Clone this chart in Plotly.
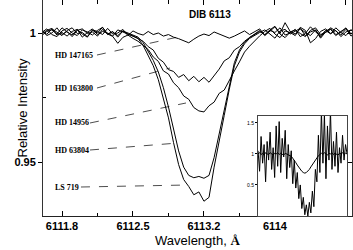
import plotly.graph_objects as go

wavelength = [6111.60, 6111.65, 6111.70, 6111.75, 6111.80, 6111.85, 6111.90, 6111.95, 6112.00, 6112.05,
              6112.10, 6112.15, 6112.20, 6112.25, 6112.30, 6112.35, 6112.40, 6112.45, 6112.50, 6112.55,
              6112.60, 6112.65, 6112.70, 6112.75, 6112.80, 6112.85, 6112.90, 6112.95, 6113.00, 6113.05,
              6113.10, 6113.15, 6113.20, 6113.25, 6113.30, 6113.35, 6113.40, 6113.45, 6113.50, 6113.55,
              6113.60, 6113.65, 6113.70, 6113.75, 6113.80, 6113.85, 6113.90, 6113.95, 6114.00, 6114.05,
              6114.10, 6114.15, 6114.20, 6114.25, 6114.30, 6114.35, 6114.40, 6114.45, 6114.50, 6114.55,
              6114.60, 6114.65, 6114.70]

hd147165 = [1.0008, 0.9995, 1.0016, 1.0004, 0.9990, 1.0010, 1.0020, 0.9998, 1.0002, 0.9986,
            1.0012, 1.0006, 0.9994, 1.0018, 0.9996, 1.0000, 1.0014, 0.9990, 1.0008, 0.9998,
            0.9992, 1.0006, 0.9994, 1.0000, 0.9988, 0.9994, 0.9984, 0.9978, 0.9970, 0.9962,
            0.9976, 0.9988, 0.9996, 0.9990, 1.0004, 0.9996, 0.9986, 0.9980, 0.9988, 0.9998,
            1.0008, 0.9994, 1.0004, 1.0016, 0.9990, 1.0006, 1.0024, 0.9996, 0.9982, 1.0004,
            1.0012, 0.9998, 0.9986, 1.0010, 1.0020, 0.9994, 1.0002, 1.0014, 0.9990, 1.0006,
            1.0018, 0.9996, 1.0008]

hd163800 = [0.9996, 1.0010, 1.0018, 0.9992, 1.0002, 0.9988, 1.0006, 1.0014, 0.9996, 0.9984,
            1.0010, 1.0000, 1.0022, 0.9994, 1.0004, 0.9990, 1.0008,
            0.9996, 0.9989, 0.9977, 0.9968, 0.9947, 0.9934, 0.9902, 0.9887, 0.9858, 0.9851,
            0.9828, 0.9839, 0.9815, 0.9832, 0.9811, 0.9828, 0.9809, 0.9836, 0.9860, 0.9892,
            0.9904, 0.9934, 0.9947, 0.9968, 0.9981, 0.9996,
            1.0010, 0.9992, 1.0012, 1.0026, 0.9998, 1.0040, 1.0006, 0.9996, 1.0016, 1.0002,
            0.9990, 1.0012, 0.9980, 1.0004, 1.0020, 1.0008, 0.9992, 1.0014, 0.9998, 1.0006]

hd14956 = [1.0012, 0.9990, 1.0000, 1.0020, 0.9994, 1.0006, 0.9986, 1.0010, 1.0016, 0.9998,
           1.0004, 0.9988, 1.0014, 0.9996, 0.9987, 0.9960, 0.9983,
           0.9992, 0.9979, 0.9968, 0.9952, 0.9936, 0.9907, 0.9890, 0.9853, 0.9841, 0.9807,
           0.9788, 0.9756, 0.9743, 0.9711, 0.9698, 0.9694, 0.9718, 0.9732, 0.9766, 0.9779,
           0.9819, 0.9853, 0.9888, 0.9926, 0.9949, 0.9970, 0.9989,
           1.0006, 1.0018, 0.9996, 0.9982, 1.0008, 1.0002, 0.9990, 1.0022, 1.0010, 0.9962,
           0.9978, 1.0006, 1.0016, 0.9998, 1.0010, 0.9986, 1.0004, 1.0012, 0.9996]

hd63804 = [1.0002, 1.0016, 0.9994, 0.9986, 1.0008, 1.0018, 1.0000, 0.9990, 1.0012, 1.0004,
           0.9992, 1.0010, 1.0022, 0.9996, 1.0006, 0.9984, 1.0008, 1.0000, 0.9994,
           0.9984, 0.9963, 0.9931, 0.9894, 0.9849, 0.9788, 0.9713, 0.9628, 0.9543, 0.9480,
           0.9448, 0.9439, 0.9444, 0.9437, 0.9448, 0.9517, 0.9607, 0.9703, 0.9798, 0.9885,
           0.9934, 0.9964, 0.9983, 0.9996, 1.0006,
           0.9994, 1.0010, 1.0002, 1.0020, 0.9992, 1.0000, 1.0014, 0.9986, 0.9998, 1.0024,
           1.0004, 0.9990, 1.0008, 1.0016, 0.9994, 1.0002, 1.0020, 0.9988, 1.0004]

ls719 = [0.9990, 1.0006, 1.0012, 0.9996, 1.0020, 1.0004, 0.9992, 1.0014, 0.9984, 1.0002,
         1.0016, 0.9994, 1.0006, 1.0000, 0.9988, 1.0012, 1.0004, 0.9996, 0.9988,
         0.9979, 0.9952, 0.9915, 0.9873, 0.9819, 0.9750, 0.9671, 0.9575, 0.9490, 0.9432,
         0.9405, 0.9373, 0.9384, 0.9348, 0.9363, 0.9480, 0.9586, 0.9681, 0.9782, 0.9873,
         0.9926, 0.9958, 0.9979, 0.9992, 1.0002,
         1.0012, 0.9996, 0.9980, 1.0008, 1.0014, 0.9996, 1.0006, 1.0018, 0.9990, 1.0004,
         1.0012, 0.9984, 1.0010, 0.9996, 1.0020, 1.0002, 0.9990, 1.0012, 1.0000]

star_names = ["HD 147165", "HD 163800", "HD 14956", "HD 63804", "LS 719"]
label_y = [0.99147, 0.97868, 0.96512, 0.95465, 0.94031]
leader_start = [(6112.145, 0.99147), (6112.145, 0.97868), (6112.076, 0.96512), (6112.076, 0.95465), (6111.987, 0.94031)]
leader_end = [(6112.944, 0.99845), (6112.865, 0.98643), (6113.023, 0.97287), (6112.944, 0.95736), (6113.043, 0.94109)]

x_tickvals = [6111.8, 6112.5, 6113.2, 6113.9, 6114.6]
x_ticktext = ["6111.8", "6112.5", "6113.2", "6114", "6114.6"]
x_minor = [6112.15, 6112.85, 6113.55, 6114.25]
y_tickvals = [0.95, 1.0]
y_ticktext = ["0.95", "1"]
y_minor = [0.975]

inset_x = list(range(60))
inset_obs = [1.05, 0.72, 1.28, 0.85, 1.15, 0.55, 1.20, 0.90, 1.35, 0.75,
             1.10, 0.62, 1.45, 0.80, 1.52, 0.70, 1.25, 0.95, 1.38, 0.60,
             1.15, 0.78, 1.05, 0.52, 0.90, 0.45, 0.70, 0.28, 0.50, 0.12,
             0.30, 0.02, 0.18, 0.00, 0.22, 0.05, 0.40, 0.15, 0.75, 0.55,
             1.30, 0.70, 1.70, 0.85, 1.65, 0.60, 1.45, 0.90, 1.70, 0.75,
             1.20, 0.80, 1.35, 0.70, 1.10, 0.85, 1.30, 0.90, 1.15, 1.00]
inset_fit = [1.00, 1.02, 0.99, 1.01, 0.98, 1.02, 1.00, 0.99, 1.02, 1.00,
             0.98, 1.01, 1.00, 1.02, 0.99, 1.01, 1.00, 0.98, 1.01, 1.00,
             0.99, 0.98, 0.96, 0.93, 0.90, 0.86, 0.82, 0.78, 0.75, 0.72,
             0.70, 0.69, 0.70, 0.72, 0.75, 0.79, 0.83, 0.87, 0.91, 0.94,
             0.97, 0.99, 1.01, 0.99, 1.02, 1.00, 0.98, 1.01, 1.00, 1.02,
             0.99, 1.01, 1.00, 0.98, 1.01, 1.00, 1.02, 0.99, 1.01, 1.00]

XR = [6111.6126, 6114.660]
YR = [0.92907, 1.01279]

fig = go.Figure()
for ys in [hd147165, hd163800, hd14956, hd63804, ls719]:
    fig.add_trace(go.Scatter(x=wavelength, y=ys, mode="lines",
                             line=dict(color="black", width=1), showlegend=False, hoverinfo="skip"))
fig.add_trace(go.Scatter(x=inset_x, y=inset_obs, mode="lines", xaxis="x2", yaxis="y2",
                         line=dict(color="black", width=1), showlegend=False, hoverinfo="skip"))
fig.add_trace(go.Scatter(x=inset_x, y=inset_fit, mode="lines", xaxis="x2", yaxis="y2",
                         line=dict(color="black", width=1), showlegend=False, hoverinfo="skip"))
fig.add_trace(go.Scatter(x=[XR[0]], y=[YR[0]], xaxis="x3", yaxis="y3", mode="markers",
                         marker=dict(opacity=0), showlegend=False, hoverinfo="skip"))

for (x0, y0), (x1, y1) in zip(leader_start, leader_end):
    fig.add_shape(type="line", x0=x0, y0=y0, x1=x1, y1=y1, xref="x", yref="y",
                  line=dict(color="black", width=0.7, dash="dash"))

for name, yv in zip(star_names, label_y):
    fig.add_annotation(x=6111.711, y=yv, xref="x", yref="y", text="<b>" + name + "</b>",
                       showarrow=False, xanchor="left", yanchor="middle",
                       font=dict(family="Liberation Serif", size=8, color="black"))

fig.add_annotation(x=6113.26, y=1.00698, xref="x", yref="y", text="<b>DIB 6113</b>",
                   showarrow=False, font=dict(family="Liberation Sans", size=10, color="black"))
fig.add_annotation(x=-0.1003, y=0.5, xref="paper", yref="paper", text="Relative Intensity",
                   textangle=-90, showarrow=False,
                   font=dict(family="Liberation Sans", size=13, color="black"))
fig.add_annotation(x=0.5016, y=-0.1157, xref="paper", yref="paper",
                   text="Wavelength, <span style='font-family:Liberation Serif'><b>Å</b></span>",
                   showarrow=False, yanchor="middle",
                   font=dict(family="Liberation Sans", size=13, color="black"))

tickfont = dict(family="Liberation Sans", size=11, color="black", weight="bold")

fig.update_layout(
    width=353, height=250, margin=dict(l=43, r=1, t=0, b=34),
    paper_bgcolor="white", plot_bgcolor="white", showlegend=False,
    xaxis=dict(range=XR, tickmode="array", tickvals=x_tickvals, ticktext=x_ticktext,
               ticks="inside", ticklen=5, tickcolor="black", showgrid=False, zeroline=False,
               showline=True, linecolor="#222", linewidth=1, mirror=False, tickfont=tickfont,
               minor=dict(tickmode="array", tickvals=x_minor, ticks="inside", ticklen=3, tickcolor="black")),
    yaxis=dict(range=YR, tickmode="array", tickvals=y_tickvals, ticktext=y_ticktext,
               ticks="outside", ticklen=4, tickcolor="black", showgrid=False, zeroline=False,
               showline=True, linecolor="#333", linewidth=1, mirror=True, tickfont=tickfont,
               minor=dict(tickmode="array", tickvals=y_minor, ticks="inside", ticklen=3, tickcolor="black")),
    xaxis3=dict(range=XR, overlaying="x", side="top", anchor="y", tickmode="array",
                tickvals=x_tickvals, ticks="inside", ticklen=5, tickcolor="black",
                showticklabels=False, showline=False, showgrid=False, zeroline=False,
                minor=dict(tickmode="array", tickvals=x_minor, ticks="inside", ticklen=4, tickcolor="black")),
    yaxis3=dict(range=YR, overlaying="y", side="right", anchor="x", tickmode="array",
                tickvals=y_tickvals, ticks="inside", ticklen=5, tickcolor="black",
                showticklabels=False, showline=False, showgrid=False, zeroline=False),
    xaxis2=dict(domain=[0.696, 0.984], anchor="y2", range=[0, 59], showticklabels=False,
                ticks="", showgrid=False, zeroline=False, showline=True, linecolor="#444",
                linewidth=1, mirror=True),
    yaxis2=dict(domain=[0, 0.463], anchor="x2", range=[0, 1.61], tickmode="array",
                tickvals=[0.5, 1, 1.5], ticktext=["0.5", "1", "1.5"], ticks="outside", ticklen=2,
                tickcolor="black", tickfont=dict(family="Liberation Sans", size=5, color="black"),
                showgrid=False, zeroline=False, showline=True, linecolor="#444", linewidth=1,
                mirror=True),
)

fig.write_html("out.html", config={"displayModeBar": False},
               post_script="document.body.style.margin='0';")
